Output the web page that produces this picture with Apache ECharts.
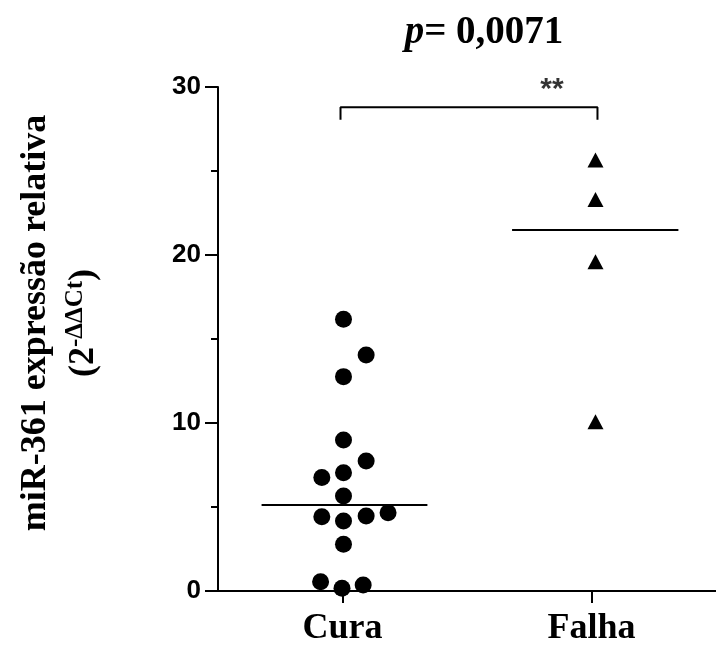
<!DOCTYPE html>
<html>
<head>
<meta charset="utf-8">
<script src="https://cdn.jsdelivr.net/npm/echarts@6/dist/echarts.min.js"></script>
<style>
  html, body { margin: 0; padding: 0; background: #fff; }
  #chart { width: 716px; height: 650px; }
</style>
</head>
<body>
<div id="chart"></div>
<script>
// groups on the x axis (1 = Cura, 2 = Falha)
var groups = ['Cura', 'Falha']
// jittered x position + value for each sample
var curaPoints = [
  [1.004, 16.17], [1.095, 14.05], [1.004, 12.76], [1.004, 8.99],
  [1.095, 7.74], [0.917, 6.75], [1.004, 7.04], [1.004, 5.65],
  [0.917, 4.42], [1.004, 4.17], [1.095, 4.46], [1.183, 4.66],
  [1.004, 2.78], [0.912, 0.55], [0.998, 0.16], [1.083, 0.36]
]
var falhaPoints = [[2.016, 25.65], [2.016, 23.3], [2.016, 19.6], [2.016, 10.08]]
// median lines
var curaMedian = [[0.675, 5.12], [1.341, 5.12]]
var falhaMedian = [[1.681, 21.49], [2.349, 21.49]]
// significance bracket
var bracket = [[0.992, 28.05], [0.992, 28.8], [2.024, 28.8], [2.024, 28.05]]
var starPos = [[1.841, 29.85]]
var yTicks = [0, 10, 20, 30]

var myChart = echarts.init(document.getElementById('chart'))
myChart.setOption({
  animation: false,
  title: {
    text: '{i|p}= 0,0071',
    left: 479,
    top: 8,
    textAlign: 'center',
    textStyle: {
      fontFamily: 'Liberation Serif',
      fontWeight: 'bold',
      fontSize: 39,
      color: '#000',
      rich: {
        i: { fontFamily: 'Liberation Serif', fontWeight: 'bold', fontStyle: 'italic', fontSize: 39, color: '#000' }
      }
    }
  },
  graphic: [
    {
      type: 'text',
      x: 36,
      y: 323,
      rotation: Math.PI / 2,
      style: {
        text: 'miR-361 expressão relativa',
        fontFamily: 'Liberation Serif',
        fontWeight: 'bold',
        fontSize: 36,
        fill: '#000',
        align: 'center',
        verticalAlign: 'middle'
      }
    },
    {
      type: 'text',
      x: 84,
      y: 323,
      rotation: Math.PI / 2,
      style: {
        text: '{n|(2}{s|-ΔΔCt}{n|)}',
        align: 'center',
        verticalAlign: 'middle',
        rich: {
          n: { fontFamily: 'Liberation Serif', fontWeight: 'bold', fontSize: 36, fill: '#000' },
          s: { fontFamily: 'Liberation Serif', fontWeight: 'bold', fontSize: 25, fill: '#000', verticalAlign: 'top', padding: [0, 0, 16, 0] }
        }
      }
    }
  ],
  grid: { left: 218, top: 87, width: 504, height: 504 },
  xAxis: {
    type: 'value',
    min: 0.5,
    max: 2.5,
    splitLine: { show: false },
    axisLine: { show: true, lineStyle: { color: '#000', width: 2 } },
    axisTick: { show: true, customValues: [1, 2], length: 12, lineStyle: { color: '#000', width: 2 } },
    axisLabel: {
      customValues: [1, 2],
      formatter: function (v) { return groups[Math.round(v) - 1] },
      margin: 20,
      fontFamily: 'Liberation Serif',
      fontWeight: 'bold',
      fontSize: 36,
      color: '#000'
    }
  },
  yAxis: {
    type: 'value',
    min: 0,
    max: 30,
    interval: 10,
    splitLine: { show: false },
    axisLine: { show: true, lineStyle: { color: '#000', width: 2 } },
    axisTick: { show: true, inside: false, length: 13, lineStyle: { color: '#000', width: 2 } },
    minorTick: { show: true, splitNumber: 2, length: 7, lineStyle: { color: '#000', width: 2 } },
    axisLabel: {
      formatter: function (v) { return yTicks.indexOf(v) >= 0 ? String(v) : '' },
      margin: 17,
      fontFamily: 'Liberation Sans',
      fontWeight: 'bold',
      fontSize: 26,
      color: '#000'
    }
  },
  series: [
    {
      name: 'Cura',
      type: 'scatter',
      symbol: 'circle',
      symbolSize: 17,
      itemStyle: { color: '#000', opacity: 1 },
      data: curaPoints,
      z: 3
    },
    {
      name: 'Falha',
      type: 'scatter',
      symbol: 'triangle',
      symbolSize: [16, 15],
      itemStyle: { color: '#000', opacity: 1 },
      data: falhaPoints,
      z: 3
    },
    {
      type: 'line',
      data: curaMedian,
      symbol: 'none',
      lineStyle: { color: '#000', width: 2 }
    },
    {
      type: 'line',
      data: falhaMedian,
      symbol: 'none',
      lineStyle: { color: '#000', width: 2 }
    },
    {
      type: 'line',
      data: bracket,
      symbol: 'none',
      lineStyle: { color: '#000', width: 2 }
    },
    {
      type: 'scatter',
      data: starPos,
      symbolSize: 0,
      label: {
        show: true,
        position: 'inside',
        formatter: '**',
        fontFamily: 'Liberation Sans',
        fontWeight: 'bold',
        fontSize: 30,
        color: '#000'
      }
    }
  ]
})
</script>
</body>
</html>
